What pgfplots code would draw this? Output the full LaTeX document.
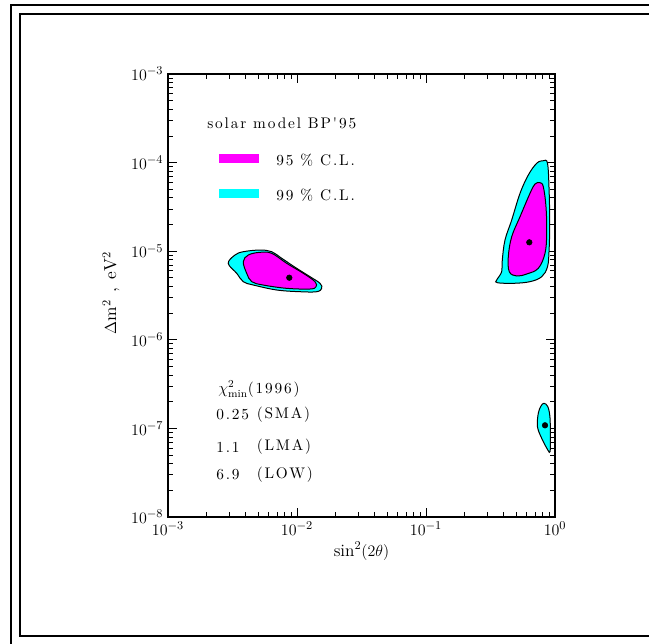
\documentclass[border=0pt]{standalone}
\usepackage{fontspec}
\usepackage{pgfplots}
\pgfplotsset{compat=1.18}
\newfontfamily\wide{lmroman10-regular.otf}[LetterSpace=12]
\definecolor{mag}{RGB}{255,0,255}
\definecolor{cya}{RGB}{0,255,255}

\begin{document}
\begin{tikzpicture}
\begin{scope}[x=0.75pt,y=0.75pt]
\useasboundingbox (0,0) rectangle (649,643);
% page frames
\draw[line width=1pt] (11,-2) -- (11,638) -- (651,638);
\draw[line width=1pt] (651,629) -- (20,629) -- (20,7) -- (651,7);
\end{scope}

\begin{axis}[
    at={(126pt,94.5pt)}, anchor=south west,
    scale only axis,
    width=290.25pt, height=332.25pt,
    xmode=log, ymode=log,
    xmin=1e-3, xmax=1, ymin=1e-8, ymax=1e-3,
    axis line style={line width=1pt},
    tick align=inside,
    major tick length=7pt,
    minor tick length=3.6pt,
    every tick/.style={black, line width=0.6pt},
    tick label style={font=\fontsize{12.5}{14}\selectfont},
    xlabel={$\sin^2(2\theta)$},
    ylabel={{\wide$\Delta$m$^2$ , eV$^2$}},
    label style={font=\fontsize{13}{15}\selectfont},
    xlabel style={at={(axis description cs:0.5,-0.077)}, anchor=center},
    ylabel style={at={(axis description cs:-0.147,0.506)}, anchor=center},
]
% 99% C.L. regions
\addplot[fill=cya, draw=black, line width=0.75pt, smooth cycle, tension=0.6] coordinates {
    (2.93e-3,7.30e-6) (3.307e-3,9.06e-6) (3.834e-3,9.87e-6) (5.167e-3,1.031e-5)
    (6.367e-3,9.87e-6) (7.61e-3,8.32e-6) (9.95e-3,6.41e-6) (1.262e-2,5.155e-6)
    (1.508e-2,4.34e-6) (1.554e-2,3.81e-6) (1.421e-2,3.49e-6) (1.055e-2,3.49e-6)
    (6.96e-3,3.65e-6) (4.585e-3,4.155e-6) (3.834e-3,4.525e-6) (3.41e-3,5.63e-6)
};
\addplot[fill=cya, draw=black, line width=0.75pt, smooth cycle, tension=0.6] coordinates {
    (0.8116,1.05e-4) (0.875,9.82e-5) (0.900,4.905e-5) (0.910,2.065e-5)
    (0.900,1.032e-5) (0.875,6.685e-6) (0.7888,5.155e-6) (0.6400,4.53e-6)
    (0.4751,4.34e-6) (0.3569,4.41e-6) (0.3532,4.73e-6) (0.3862,5.87e-6)
    (0.3904,7.96e-6) (0.4097,1.338e-5) (0.4617,2.25e-5) (0.5356,4.50e-5)
    (0.6209,7.24e-5) (0.7211,9.82e-5)
};
\addplot[fill=cya, draw=black, line width=0.75pt, smooth cycle, tension=0.6] coordinates {
    (0.8217,1.920e-7) (0.8800,1.758e-7) (0.9150,1.311e-7) (0.9200,7.40e-8)
    (0.9150,5.46e-8) (0.8800,5.70e-8) (0.7888,7.73e-8) (0.7315,1.045e-7)
    (0.7421,1.481e-7) (0.7790,1.790e-7)
};
% 95% C.L. regions
\addplot[fill=mag, draw=black, line width=0.75pt, smooth cycle, tension=0.6] coordinates {
    (3.834e-3,7.61e-6) (4.193e-3,9.06e-6) (5.167e-3,9.72e-6) (6.367e-3,9.47e-6)
    (8.32e-3,7.30e-6) (1.119e-2,5.63e-6) (1.379e-2,4.53e-6) (1.404e-2,3.97e-6)
    (1.262e-2,3.745e-6) (8.32e-3,3.81e-6) (5.48e-3,4.15e-6) (4.455e-3,4.53e-6)
    (4.075e-3,5.63e-6)
};
\addplot[fill=mag, draw=black, line width=0.75pt, smooth cycle, tension=0.6] coordinates {
    (0.7651,5.93e-5) (0.8116,5.345e-5) (0.8515,3.18e-5) (0.8624,1.592e-5)
    (0.8367,9.47e-6) (0.7421,6.41e-6) (0.6034,5.53e-6) (0.5047,5.25e-6)
    (0.4422,5.87e-6) (0.4345,8.67e-6) (0.4617,1.458e-5) (0.5356,2.451e-5)
    (0.6400,4.50e-5) (0.6998,5.735e-5)
};
% best-fit points
\addplot[only marks, mark=*, mark size=2.1pt, black] coordinates {
    (8.715e-3,5.022e-6) (0.6321,1.260e-5) (0.8367,1.084e-7)
};
\end{axis}

\begin{scope}[x=0.75pt,y=0.75pt, every node/.style={anchor=west, inner sep=0, font=\fontsize{11.5}{13}\selectfont}]
% legend
\node at (207,520) {\wide solar model BP'95};
\fill[mag] (219,480) rectangle (259,489);
\node at (276,483) {\wide 95 \% C.L.};
\fill[cya] (219,445) rectangle (259,454);
\node at (276,448) {\wide 99 \% C.L.};
% chi^2 table
\node at (218,254) {$\chi^2_{\mathrm{min}}${\wide(1996)}};
\node at (216,228) {\wide 0.25};
\node at (256.5,228) {\wide(SMA)};
\node at (216,196) {\wide 1.1};
\node at (256.5,196) {\wide(LMA)};
\node at (216,168) {\wide 6.9};
\node at (256.5,168) {\wide(LOW)};
\end{scope}
\end{tikzpicture}
\end{document}
